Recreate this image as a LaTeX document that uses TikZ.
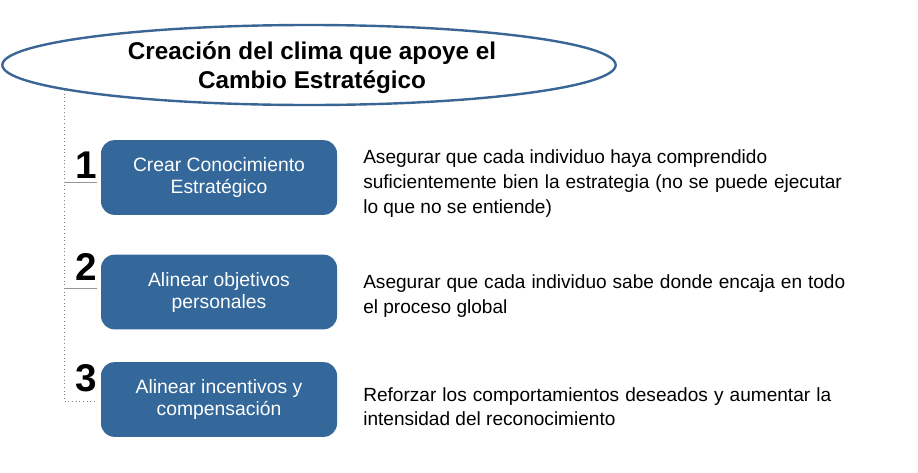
\documentclass[tikz,border=0pt]{standalone}
\usepackage{fontspec}
\setmainfont{Liberation Sans}
\usetikzlibrary{shapes.geometric}
\definecolor{boxblue}{RGB}{52,103,154}
\definecolor{lineblue}{RGB}{58,102,150}
\definecolor{conngray}{RGB}{150,150,150}
\tikzset{
  stepbox/.style={draw=none, fill=boxblue, rounded corners=10pt, minimum width=177pt, minimum height=56pt, inner sep=0pt, text=white, align=center, font=\fontsize{14.5}{16.5}\selectfont},
  numlabel/.style={anchor=base, inner sep=0pt, font=\bfseries\fontsize{29}{30}\selectfont},
  titleline/.style={anchor=base, inner sep=0pt, font=\bfseries\fontsize{18.2}{21}\selectfont},
  descline/.style={anchor=base west, inner sep=0pt, font=\fontsize{14.3}{16}\selectfont},
  conn/.style={draw=conngray, line width=0.75pt},
  dotconn/.style={draw=gray, line width=0.75pt, dotted},
}
\begin{document}
\begin{tikzpicture}[x=0.75pt,y=-0.75pt]
\useasboundingbox[fill=white] (0,0) rectangle (918,472);
% title ellipse
\node[ellipse, draw=lineblue, line width=1.8pt, minimum width=460pt, minimum height=60pt, inner sep=0pt] (ell) at (309,65) {};
\node[titleline] (t1) at (312,59) {Creación del clima que apoye el};
\node[titleline] (t2) at (312,88) {Cambio Estratégico};
% connectors
\coordinate (top) at (64,90);
\coordinate (bot) at (64,401);
\coordinate (h1a) at (64,182);
\coordinate (h1b) at (97,182);
\coordinate (h2a) at (64,288);
\coordinate (h2b) at (97,288);
\coordinate (h3b) at (97,401);
\draw[dotconn] (top) -- (bot) -- (h3b);
\draw[conn] (h1a) -- (h1b);
\draw[conn] (h2a) -- (h2b);
% boxes
\node[stepbox] (b1) at (219,177.5) {Crear Conocimiento\\Estratégico};
\node[stepbox] (b2) at (219,292) {Alinear objetivos\\personales};
\node[stepbox] (b3) at (219,399.5) {Alinear incentivos y\\compensación};
% numbers
\node[numlabel] (n1) at (86,178) {1};
\node[numlabel] (n2) at (86,280) {2};
\node[numlabel] (n3) at (86,391) {3};
% descriptions
\node[descline] (d1a) at (363,163) {\makebox[303pt][s]{Asegurar que cada individuo haya comprendido}};
\node[descline] (d1b) at (363,188) {\makebox[359pt][s]{suficientemente bien la estrategia (no se puede ejecutar}};
\node[descline] (d1c) at (363,213) {lo que no se entiende)};
\node[descline] (d2a) at (363,288) {\makebox[361.5pt][s]{Asegurar que cada individuo sabe donde encaja en todo}};
\node[descline] (d2b) at (363,313) {el proceso global};
\node[descline] (d3a) at (363,401) {\makebox[351pt][s]{Reforzar los comportamientos deseados y aumentar la}};
\node[descline] (d3b) at (363,425) {intensidad del reconocimiento};
\end{tikzpicture}
\end{document}
